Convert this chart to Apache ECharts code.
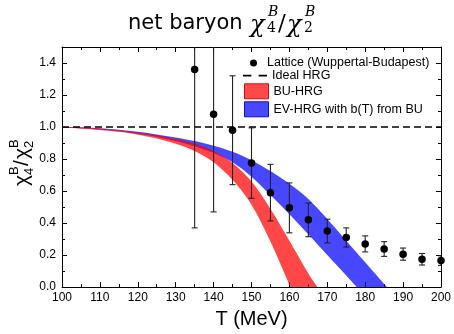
<!DOCTYPE html>
<html><head><meta charset="utf-8">
<script src="https://cdn.jsdelivr.net/npm/echarts@6/dist/echarts.min.js"></script>
<style>html,body{margin:0;padding:0;background:#fff}#c{width:454px;height:334px}</style>
</head><body><div id="c"></div>
<script>
// Temperatures (MeV) for model bands
const temps = [100,105,110,115,120,125,130,135,140,145,150,155,160,165,170,175,180,185,190];
// BU-HRG band (red)
const redLower = [0.995,0.990,0.982,0.970,0.952,0.928,0.895,0.850,0.780,0.670,0.515,0.285,0.015,-0.260,-0.530];
const redUpper = [1.000,0.997,0.990,0.980,0.966,0.948,0.925,0.895,0.850,0.775,0.660,0.490,0.290,0.085,-0.120];
// EV-HRG band (blue)
const blueLower = [0.997,0.993,0.985,0.974,0.958,0.938,0.912,0.880,0.838,0.780,0.690,0.575,0.455,0.330,0.200,0.072,-0.058,-0.185,-0.315];
const blueUpper = [1.000,0.998,0.992,0.983,0.970,0.953,0.935,0.912,0.883,0.845,0.793,0.725,0.645,0.550,0.425,0.290,0.155,0.020,-0.115];
// Ideal HRG
const idealT = [100,200];
const idealV = [1.0,1.0];
// Lattice (Wuppertal-Budapest)
const latT = [135,140,145,150,155,160,165,170,175,180,185,190,195,200];
const latV = [1.36,1.08,0.98,0.775,0.59,0.495,0.42,0.35,0.31,0.27,0.238,0.206,0.174,0.166];
const latErr = [0.99,0.61,0.34,0.22,0.177,0.156,0.105,0.074,0.06,0.05,0.046,0.038,0.036,0.03];
// Axis ticks
const xTicks = {min:100,max:200,step:10};
const yTicks = {min:0,max:1.5,step:0.2};

const FONT = 'Liberation Sans, Arial, sans-serif';
const chart = echarts.init(document.getElementById('c'));
const tR = temps.slice(0, redLower.length);
const tB = temps.slice(0, blueLower.length);
const pairs = (xs, ys) => xs.map((x,i)=>[x, ys[i]]);

const RED = 'rgba(255,0,0,0.72)';
const BLUE = 'rgba(0,0,255,0.72)';

function bandSeries(name, xs, lo, hi, fill, z){
  return {name, type:'custom', clip:true, z, silent:true,
    data: xs.map((x,i)=>[x, lo[i], hi[i]]),
    encode:{x:0, y:[1,2]},
    renderItem:(params, api)=>{
      if (params.dataIndexInside !== 0) return null;
      const n = params.dataInsideLength;
      const up=[], dn=[];
      for (let i=0;i<n;i++){
        const x=api.value(0,i);
        up.push(api.coord([x, api.value(2,i)]));
        dn.push(api.coord([x, api.value(1,i)]));
      }
      return {type:'polygon', shape:{points:up.concat(dn.reverse()), smooth:0.3}, style:{fill}};
    }};
}

const axisCommon = {
  axisLine:{show:true,onZero:false,lineStyle:{color:'#000',width:1}},
  axisTick:{show:true,inside:true,length:5,lineStyle:{color:'#000'}},
  minorTick:{show:true,splitNumber:2,length:3,lineStyle:{color:'#000'}},
  splitLine:{show:false}
};

function txt(x,y,text,size,family,style){
  return {type:'text',x,y,style:{text,fontSize:size,fontFamily:family,fontStyle:style||'normal',
    fill:'#000',align:'left',verticalAlign:'middle'}};
}
const SERIF = 'DejaVu Serif';
const SANS = 'DejaVu Sans';
const LEG = {fontFamily:FONT,fontSize:12.5,color:'#000'};

const option = {
  animation:false,
  backgroundColor:'#fff',
  grid:{left:62,right:12,top:47,bottom:37,containLabel:false},
  xAxis:[
    Object.assign({type:'value',min:xTicks.min,max:xTicks.max,interval:xTicks.step,position:'bottom',
      axisLabel:{color:'#000',fontFamily:FONT,fontSize:12,margin:5},
      name:'T (MeV)',nameLocation:'middle',nameGap:12,
      nameTextStyle:{color:'#000',fontFamily:FONT,fontSize:20}}, axisCommon),
    Object.assign({type:'value',min:xTicks.min,max:xTicks.max,interval:xTicks.step,position:'top',
      axisLabel:{show:false}}, axisCommon)
  ],
  yAxis:[
    Object.assign({type:'value',min:yTicks.min,max:yTicks.max,interval:yTicks.step,position:'left',
      axisLabel:{color:'#000',fontFamily:FONT,fontSize:12,margin:6,
        formatter:v=>Math.abs(v/yTicks.step-Math.round(v/yTicks.step))<1e-6?v.toFixed(1):''}}, axisCommon),
    Object.assign({type:'value',min:yTicks.min,max:yTicks.max,interval:yTicks.step,position:'right',
      axisLabel:{show:false}}, axisCommon)
  ],
  legend:[
    {left:250,top:56.5,itemWidth:17,itemHeight:7,padding:0,selectedMode:false,textStyle:LEG,
     data:[{name:'Lattice (Wuppertal-Budapest)',icon:'circle',itemStyle:{color:'#000'}}]},
    {left:243,top:69.2,itemWidth:24,itemHeight:15,padding:0,selectedMode:false,textStyle:LEG,
     data:[{name:'Ideal HRG',icon:'path://M0,0H8V1.6H0Z M15,0H23V1.6H15Z',itemStyle:{color:'#000'}}]},
    {left:244,top:83.3,orient:'vertical',itemWidth:24,itemHeight:15,itemGap:2,padding:0,selectedMode:false,textStyle:LEG,
     data:[
       {name:'BU-HRG',icon:'rect',itemStyle:{color:'#ff4848',borderColor:'#d01010',borderWidth:1}},
       {name:'EV-HRG with b(T) from BU',icon:'rect',itemStyle:{color:'#4848ff',borderColor:'#1010c0',borderWidth:1}}
     ]}
  ],
  graphic:[
    txt(128,24,'net baryon',21,SANS),
    txt(250,26,'χ',24,SERIF,'italic'),
    txt(268,12,'B',14,SERIF,'italic'),
    txt(267,28,'4',14,SERIF),
    txt(278,24,'/',23,SERIF),
    txt(287,26,'χ',24,SERIF,'italic'),
    txt(305,12,'B',14,SERIF,'italic'),
    txt(304,28,'2',14,SERIF),
    {type:'group',x:22,y:158,rotation:Math.PI/2,children:[
      txt(-28,0,'χ',21,FONT),
      txt(-17,-8,'B',13,FONT),
      txt(-17,7,'4',13,FONT),
      txt(-8,0,'/',21,FONT),
      txt(-1,0,'χ',21,FONT),
      txt(10,-8,'B',13,FONT),
      txt(10,7,'2',13,FONT)
    ]}
  ],
  series:[
    bandSeries('EV-HRG with b(T) from BU', tB, blueLower, blueUpper, BLUE, 1),
    bandSeries('BU-HRG', tR, redLower, redUpper, RED, 2),
    {name:'Ideal HRG',type:'line',symbol:'none',data:pairs(idealT,idealV),
     lineStyle:{color:'#000',width:1.5,type:[7,4]},color:'#000',z:3},
    {name:'errors',type:'custom',clip:true,z:4,silent:true,
     data:latT.map((t,i)=>[t, latV[i]-latErr[i], latV[i]+latErr[i]]),
     encode:{x:0,y:[1,2]},
     renderItem:(params,api)=>{
       const x=api.value(0), lo=api.value(1), hi=api.value(2);
       const p1=api.coord([x,hi]), p2=api.coord([x,lo]);
       const w=3, st={stroke:'#222',lineWidth:1.1};
       return {type:'group',children:[
         {type:'line',shape:{x1:p1[0],y1:p1[1],x2:p2[0],y2:p2[1]},style:st},
         {type:'line',shape:{x1:p1[0]-w,y1:p1[1],x2:p1[0]+w,y2:p1[1]},style:st},
         {type:'line',shape:{x1:p2[0]-w,y1:p2[1],x2:p2[0]+w,y2:p2[1]},style:st}
       ]};
     }},
    {name:'Lattice (Wuppertal-Budapest)',type:'scatter',symbol:'circle',symbolSize:7.5,
     data:pairs(latT,latV),itemStyle:{color:'#000',opacity:1},z:5,clip:false}
  ]
};
chart.setOption(option);
</script></body></html>
